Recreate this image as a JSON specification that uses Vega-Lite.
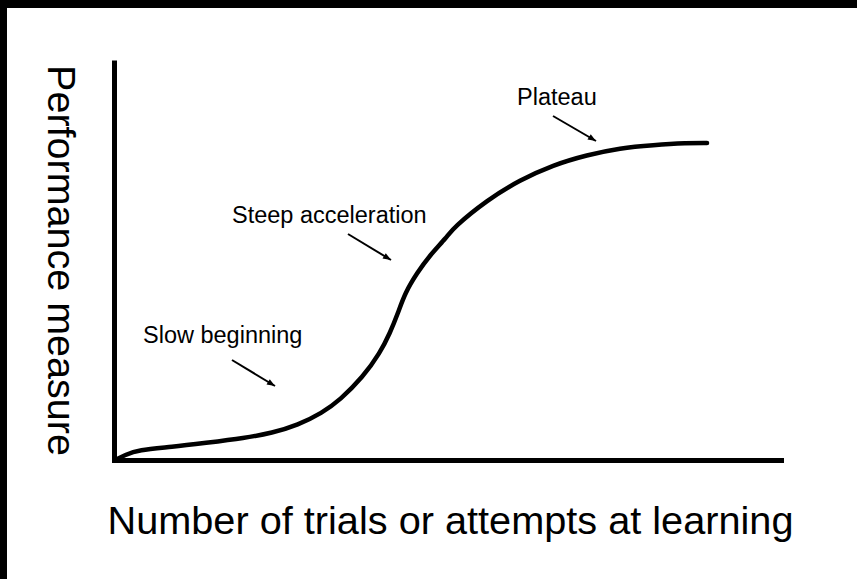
{
  "$schema": "https://vega.github.io/schema/vega-lite/v6.json",
  "width": 857,
  "height": 579,
  "autosize": {"type": "none"},
  "padding": 0,
  "background": "white",
  "config": {
    "view": {"fill": null, "stroke": null},
    "font": "Liberation Sans"
  },
  "datasets": {
    "curve": [
      {"x": 0.15, "y": 0},
      {"x": 1.65, "y": 1.25},
      {"x": 3.6, "y": 2.5},
      {"x": 8.7, "y": 3.25},
      {"x": 13.64, "y": 4.25},
      {"x": 19.64, "y": 5.5},
      {"x": 23.69, "y": 6.75},
      {"x": 27.59, "y": 8.75},
      {"x": 31.18, "y": 11.75},
      {"x": 33.88, "y": 15},
      {"x": 37.33, "y": 20.75},
      {"x": 39.88, "y": 26.75},
      {"x": 41.38, "y": 31.75},
      {"x": 42.58, "y": 36.75},
      {"x": 43.63, "y": 41.75},
      {"x": 45.43, "y": 46.75},
      {"x": 47.38, "y": 51.25},
      {"x": 49.93, "y": 55.75},
      {"x": 50.82, "y": 58},
      {"x": 55.92, "y": 65},
      {"x": 60.87, "y": 70},
      {"x": 65.82, "y": 73.75},
      {"x": 70.91, "y": 76.25},
      {"x": 75.86, "y": 78},
      {"x": 80.81, "y": 78.75},
      {"x": 85.91, "y": 79.25},
      {"x": 88.91, "y": 79.25}
    ],
    "labels": [
      {"x": 4.35, "y": 29.25, "label": "Slow beginning"},
      {"x": 17.69, "y": 59.25, "label": "Steep acceleration"},
      {"x": 60.42, "y": 88.75, "label": "Plateau"}
    ],
    "arrows": [
      {"x": 17.69, "y": 25, "x2": 24.14, "y2": 18.5},
      {"x": 35.08, "y": 56.5, "x2": 41.53, "y2": 50},
      {"x": 65.82, "y": 86, "x2": 72.26, "y2": 79.75}
    ],
    "heads": [
      {"x": 24.14, "y": 18.5},
      {"x": 41.53, "y": 50},
      {"x": 72.26, "y": 79.75}
    ],
    "frameTop": [
      {"x": -17.5, "y": 114, "x2": 112, "y2": 114}
    ],
    "frameLeft": [
      {"x": -16.567, "y": 116, "x2": -16.567, "y2": -31}
    ]
  },
  "encoding": {
    "x": {
      "field": "x",
      "type": "quantitative",
      "scale": {"domain": [0, 100], "range": [114, 781], "nice": false, "zero": false},
      "axis": {
        "title": "Number of trials or attempts at learning",
        "labels": false,
        "ticks": false,
        "grid": false,
        "domainColor": "black",
        "domainWidth": 5,
        "domainCap": "square",
        "offset": -119,
        "titleFont": "Liberation Sans",
        "titleFontSize": 39.7,
        "titleFontWeight": "normal",
        "titleColor": "black",
        "titleAlign": "center",
        "titleBaseline": "alphabetic",
        "titleX": 450,
        "titleY": 73
      }
    },
    "y": {
      "field": "y",
      "type": "quantitative",
      "scale": {"domain": [0, 100], "range": [460, 60], "nice": false, "zero": false},
      "axis": {
        "title": "Performance measure",
        "labels": false,
        "ticks": false,
        "grid": false,
        "domainColor": "black",
        "domainWidth": 5,
        "offset": -114,
        "titleFont": "Liberation Sans",
        "titleFontSize": 39.5,
        "titleFontWeight": "normal",
        "titleColor": "black",
        "titleAngle": 90,
        "titleAlign": "center",
        "titleBaseline": "alphabetic",
        "titleX": -67,
        "titleY": 260
      }
    }
  },
  "layer": [
    {
      "data": {"name": "frameTop"},
      "mark": {"type": "rule", "color": "black", "strokeWidth": 8},
      "encoding": {"x2": {"field": "x2"}, "y2": {"field": "y2"}}
    },
    {
      "data": {"name": "frameLeft"},
      "mark": {"type": "rule", "color": "black", "strokeWidth": 7},
      "encoding": {"x2": {"field": "x2"}, "y2": {"field": "y2"}}
    },
    {
      "data": {"name": "curve"},
      "mark": {"type": "line", "color": "black", "strokeWidth": 4.5, "interpolate": "basis", "strokeCap": "round"}
    },
    {
      "data": {"name": "labels"},
      "mark": {"type": "text", "align": "left", "baseline": "alphabetic", "fontSize": 23.5, "font": "Liberation Sans", "color": "black"},
      "encoding": {"text": {"field": "label"}}
    },
    {
      "data": {"name": "arrows"},
      "mark": {"type": "rule", "color": "black", "strokeWidth": 2},
      "encoding": {"x2": {"field": "x2"}, "y2": {"field": "y2"}}
    },
    {
      "data": {"name": "heads"},
      "mark": {"type": "point", "shape": "M0,0L-1,-0.4L-1,0.4Z", "filled": true, "color": "black", "opacity": 1, "size": 256, "angle": 31}
    }
  ]
}
